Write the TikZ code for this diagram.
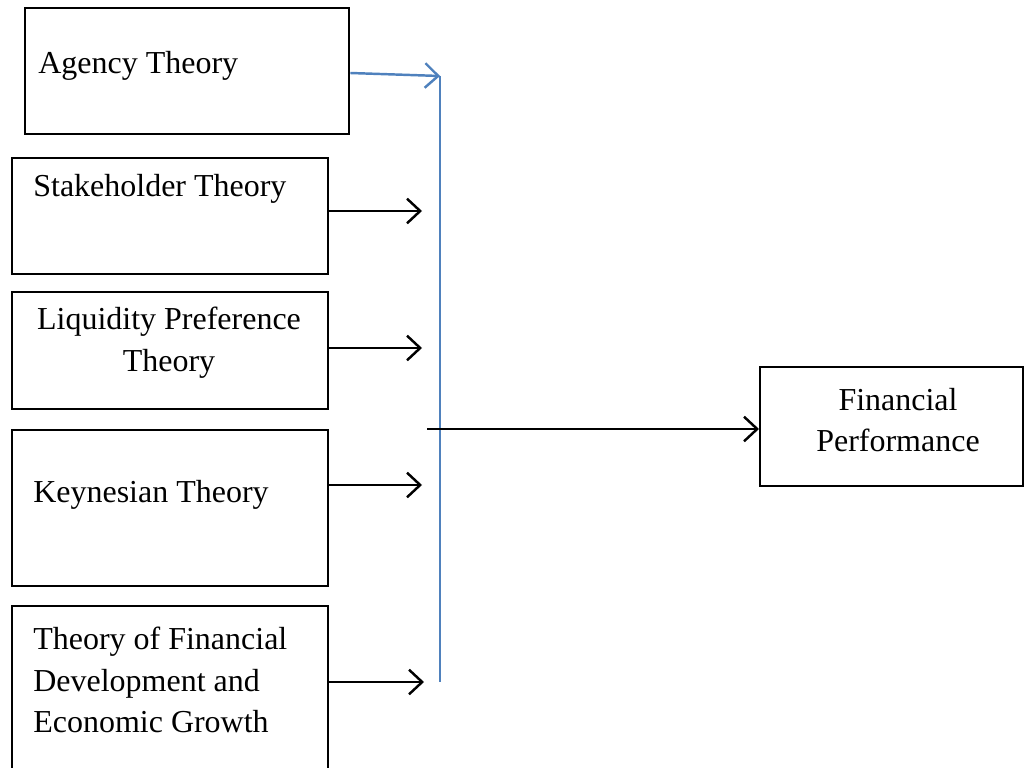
\documentclass[tikz,border=0pt]{standalone}
\usepackage{fontspec}
\setmainfont{Liberation Serif}
\usetikzlibrary{arrows.meta,positioning}
\definecolor{wordblue}{RGB}{79,129,189}
\tikzset{
  box/.style={draw,line width=1.4pt,inner sep=0pt,anchor=north west},
  txt/.style={inner sep=0pt,font=\fontsize{18.2}{23.8}\selectfont},
  link/.style={line width=1.4pt,-{Straight Barb[length=7.5pt,width=14pt,line width=1.4pt]}}
}
\begin{document}
\begin{tikzpicture}[x=0.02cm,y=-0.02cm]
    \useasboundingbox (0,0) rectangle (1027,767);

    % theory boxes
    \node[box,minimum width=6.48cm,minimum height=2.52cm] (agency) at (24,7) {};
    \node[box,minimum width=6.32cm,minimum height=2.32cm] (stake) at (11,157) {};
    \node[box,minimum width=6.32cm,minimum height=2.34cm] (liquid) at (11,291) {};
    \node[box,minimum width=6.32cm,minimum height=3.12cm] (keynes) at (11,429) {};
    \node[box,minimum width=6.32cm,minimum height=3.3cm] (findev) at (11,605) {};
    \node[box,minimum width=5.26cm,minimum height=2.38cm] (perf) at (759,366) {};

    % texts
    \node[txt,anchor=west] (agencyT) at (38,66) {Agency Theory};
    \node[txt,anchor=west] (stakeT) at (33,189) {Stakeholder Theory};
    \node[txt,align=center] (liquidT) at (169,343) {Liquidity Preference\\Theory};
    \node[txt,anchor=west] (keynesT) at (33,495) {Keynesian Theory};
    \node[txt,align=left,anchor=west] (findevT) at (33,680)
      {Theory of Financial\\Development and\\Economic Growth};
    \node[txt,align=center] (perfT) at (898,420) {Financial\\Performance};

    % arrow ends
    \coordinate (a1) at (440,76);
    \coordinate (a2) at (422,211);
    \coordinate (a3) at (422,348);
    \coordinate (a4) at (422,485);
    \coordinate (a5) at (424,682);
    \coordinate (bot) at (440,682);
    \coordinate (m0) at (427,429);

    \draw[link,wordblue] (agency.east |- 0,73) -- (a1);
    \draw[wordblue,line width=1.4pt] (a1) -- (bot);
    \draw[link] (stake.east |- a2) -- (a2);
    \draw[link] (liquid.east |- a3) -- (a3);
    \draw[link] (keynes.east |- a4) -- (a4);
    \draw[link] (findev.east |- a5) -- (a5);
    \draw[link] (m0) -- (perf.west |- m0);
  \end{tikzpicture}
\end{document}
